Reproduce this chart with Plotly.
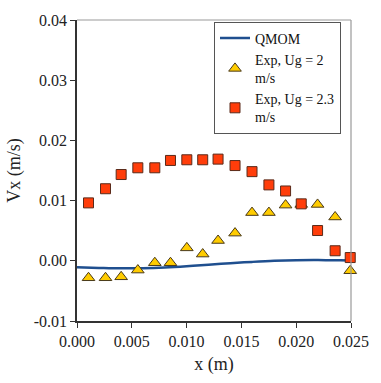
import plotly.graph_objects as go

# QMOM simulation curve
qmom_x = [0.0, 0.002, 0.004, 0.006, 0.008, 0.010, 0.012, 0.014, 0.016, 0.018, 0.020, 0.022, 0.024, 0.025]
qmom_y = [-0.00108, -0.00118, -0.00125, -0.00122, -0.00110, -0.00090, -0.00065, -0.00040,
          -0.00018, 0.00000, 0.00010, 0.00012, 0.00008, 0.00005]

# Experimental points
exp_x = [0.00105, 0.00260, 0.00403, 0.00555, 0.00710, 0.00853, 0.01002, 0.01147, 0.01287,
         0.01442, 0.01597, 0.01751, 0.01903, 0.02046, 0.02195, 0.02355, 0.02493]
exp2_y = [-0.00282, -0.00282, -0.00266, -0.00154, -0.00032, -0.00032, 0.00215, 0.00112, 0.00337,
          0.00460, 0.00801, 0.00801, 0.00925, 0.00936, 0.00936, 0.00728, -0.00165]
exp23_y = [0.00962, 0.01197, 0.01433, 0.01545, 0.01545, 0.01667, 0.01678, 0.01678, 0.01689,
           0.01582, 0.01481, 0.01261, 0.01160, 0.00946, 0.00503, 0.00167, 0.00054]

x_ticks = [0.0, 0.005, 0.010, 0.015, 0.020, 0.025]
x_tick_text = ["0.000", "0.005", "0.010", "0.015", "0.020", "0.025"]
y_ticks = [-0.01, 0.0, 0.01, 0.02, 0.03, 0.04]
y_tick_text = ["-0.01", "0.00", "0.01", "0.02", "0.03", "0.04"]

font = "Liberation Serif"

fig = go.Figure()
fig.add_trace(go.Scatter(x=qmom_x, y=qmom_y, mode="lines", name="QMOM",
                         line=dict(color="#1f4f8f", width=2.5, shape="spline")))
fig.add_trace(go.Scatter(x=exp_x, y=exp2_y, mode="markers", name="Exp, Ug = 2<br>m/s",
                         cliponaxis=False,
                         marker=dict(symbol="triangle-up", size=11, color="#ffcc00",
                                     line=dict(color="#4a3a1a", width=1))))
fig.add_trace(go.Scatter(x=exp_x, y=exp23_y, mode="markers", name="Exp, Ug = 2.3<br>m/s",
                         cliponaxis=False,
                         marker=dict(symbol="square", size=10, color="#ff3d0a",
                                     line=dict(color="#5a2a1a", width=1))))

fig.update_layout(
    width=381, height=383,
    margin=dict(l=77, r=19, t=15, b=56),
    paper_bgcolor="white", plot_bgcolor="white",
    font=dict(family=font, color="#222222", size=15),
    showlegend=True,
    legend=dict(x=0.5, y=0.995, xanchor="left", yanchor="top",
                bgcolor="white", bordercolor="#555555", borderwidth=1,
                font=dict(family=font, size=14, color="#111111"),
                tracegroupgap=0, itemwidth=30),
    xaxis=dict(range=[0, 0.025], tickvals=x_ticks, ticktext=x_tick_text,
               tickfont=dict(family=font, size=16, color="#222222"),
               showgrid=False, zeroline=False, showline=True, linecolor="#333333",
               linewidth=1.5, ticks="outside", ticklen=5, tickcolor="#333333",
               title=dict(text="x (m)", font=dict(family=font, size=18), standoff=8)),
    yaxis=dict(range=[-0.01, 0.04], tickvals=y_ticks, ticktext=y_tick_text,
               tickfont=dict(family=font, size=16, color="#222222"),
               showgrid=False, zeroline=False, showline=True, linecolor="#333333",
               linewidth=1.5, ticks="outside", ticklen=5, tickcolor="#333333",
               title=dict(text="Vx (m/s)", font=dict(family=font, size=18), standoff=8)),
    shapes=[
        dict(type="line", xref="paper", yref="paper", x0=0, x1=1, y0=1, y1=1,
             line=dict(color="#999999", width=1.2)),
        dict(type="line", xref="paper", yref="paper", x0=1, x1=1, y0=0, y1=1,
             line=dict(color="#999999", width=1.2)),
    ],
)

fig.write_html("out.html")
